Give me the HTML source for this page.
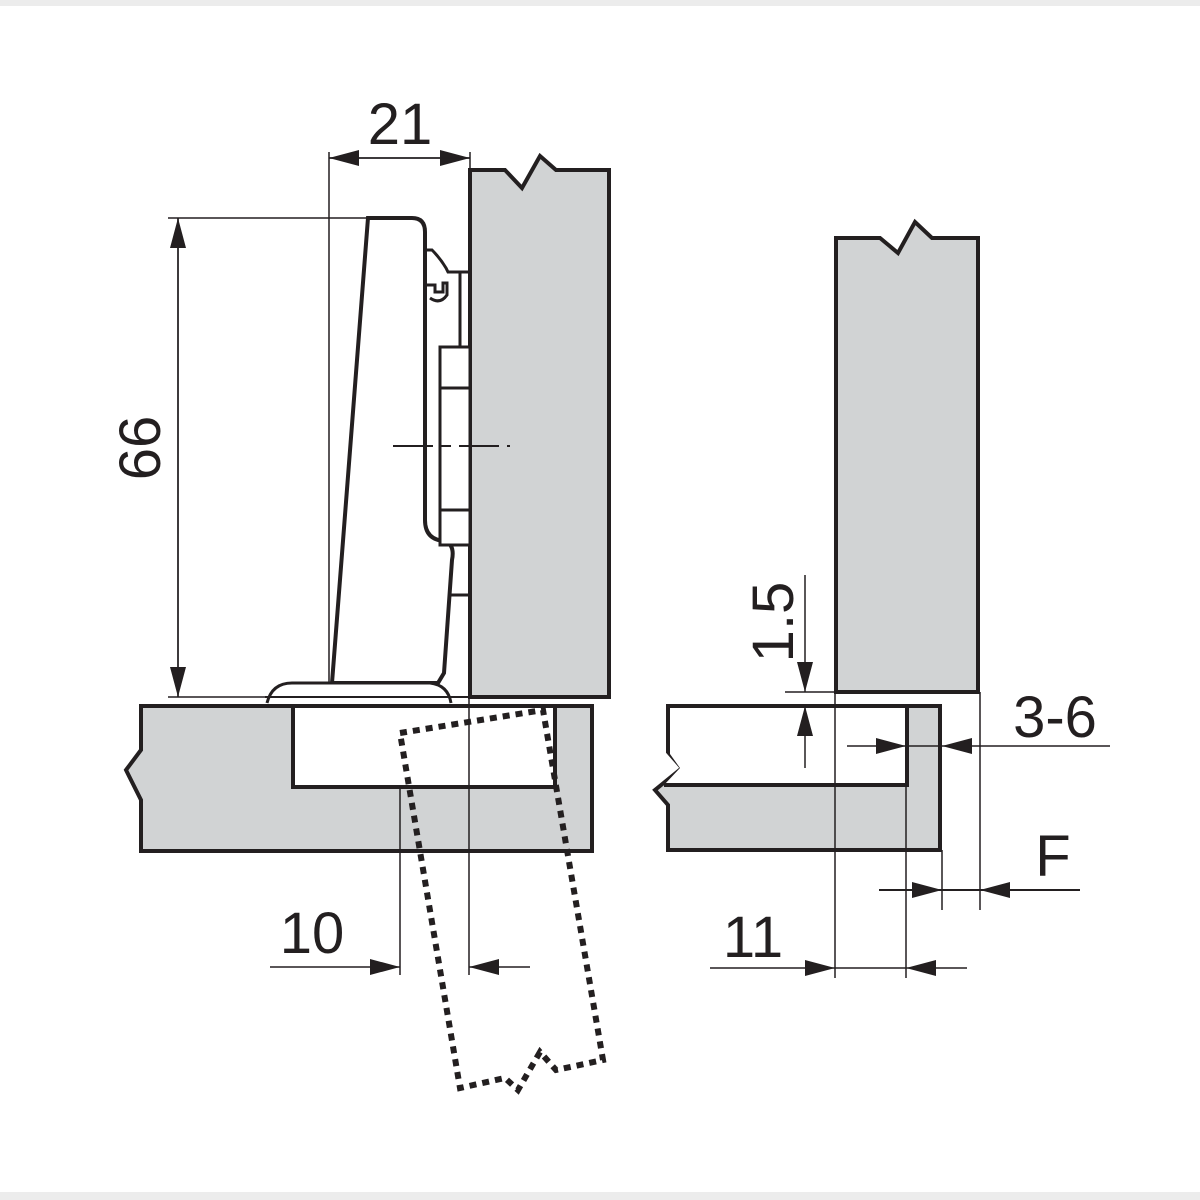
<!DOCTYPE html>
<html><head><meta charset="utf-8"><style>
html,body{margin:0;padding:0;background:#fff;}
svg{display:block;}
text{font-family:"Liberation Sans",sans-serif;fill:#231f20;}
</style></head><body>
<svg width="1200" height="1200" viewBox="0 0 1200 1200" xmlns="http://www.w3.org/2000/svg">
<rect x="0" y="0" width="1200" height="1200" fill="#ececec"/>
<rect x="0" y="6" width="1200" height="1186" fill="#fff"/>
<defs>
<marker id="a" markerWidth="30" markerHeight="16" refX="30" refY="8" orient="auto" markerUnits="userSpaceOnUse"><path d="M0,0 L30,8 L0,16 z" fill="#231f20"/></marker>
</defs>
<g stroke="#231f20" fill="none">
<!-- left cabinet side -->
<path d="M470,170 L505,170 L522,188 L540,156 L556,170 L609,170 L609,697 L470,697 Z" fill="#d1d3d4" stroke-width="4"/>
<!-- door left -->
<path d="M141,706 L592,706 L592,851 L141,851 L141,800 L126,770 L141,750 Z" fill="#d1d3d4" stroke-width="4"/>
<rect x="293" y="706" width="262" height="81" fill="#fff" stroke-width="4"/>
<rect x="143" y="700" width="446" height="4" fill="#fff" stroke="none"/>
<line x1="141" y1="706" x2="592" y2="706" stroke-width="4"/>
<!-- hinge arm -->
<path d="M368,218 L412,218 Q425,218 425,232 L425,520 Q425,540 445,541 Q455,545 452,560 L444,673 L438,683 L332,683 Z" fill="#fff" stroke-width="4"/>
<path d="M425,250 L432,250 Q440,258 446,268 L448,272 L470,272" stroke-width="3"/>
<path d="M425,285 L435,285 L435,292 L443,292 L443,283 L447,283 L447,295 Q440,305 430,298" stroke-width="3"/>
<line x1="460" y1="272" x2="460" y2="347" stroke-width="3"/>
<rect x="440" y="347" width="30" height="198" fill="#fff" stroke-width="3"/>
<line x1="440" y1="388" x2="470" y2="388" stroke-width="3"/>
<line x1="440" y1="510" x2="470" y2="510" stroke-width="3"/>
<line x1="450" y1="595" x2="470" y2="595" stroke-width="3"/>
<line x1="450" y1="545" x2="470" y2="545" stroke-width="3"/>
<path d="M267,703 Q272,683 292,683 L430,683 Q448,685 451,703" fill="#fff" stroke-width="3"/>
<line x1="265" y1="697" x2="470" y2="697" stroke-width="2"/>
<!-- center line -->
<line x1="393" y1="446" x2="510" y2="446" stroke-width="2" stroke-dasharray="40,8,10,8"/>
<!-- dotted door -->
<path d="M400,733 L543,710 L603,1060 L556,1070 L540,1052 L518,1090 L505,1078 L460,1088 Z" stroke-width="6" stroke-dasharray="7,6"/>
<!-- dim 21 -->
<line x1="329" y1="152" x2="329" y2="683" stroke-width="1.5"/>
<line x1="470" y1="152" x2="470" y2="170" stroke-width="1.5"/>
<line x1="329" y1="158" x2="470" y2="158" stroke-width="1.5" marker-end="url(#a)"/>
<line x1="470" y1="158" x2="329" y2="158" stroke-width="1.5" marker-end="url(#a)"/>
<!-- dim 66 -->
<line x1="168" y1="218" x2="368" y2="218" stroke-width="1.5"/>
<line x1="168" y1="697" x2="265" y2="697" stroke-width="1.5"/>
<line x1="178" y1="218" x2="178" y2="697" stroke-width="1.5" marker-end="url(#a)"/>
<line x1="178" y1="697" x2="178" y2="218" stroke-width="1.5" marker-end="url(#a)"/>
<!-- dim 10 -->
<line x1="400" y1="785" x2="400" y2="975" stroke-width="1.5"/>
<line x1="469" y1="697" x2="469" y2="975" stroke-width="1.5"/>
<line x1="270" y1="967" x2="400" y2="967" stroke-width="1.5" marker-end="url(#a)"/>
<line x1="530" y1="967" x2="469" y2="967" stroke-width="1.5" marker-end="url(#a)"/>
<!-- right cabinet side -->
<path d="M836,238 L880,238 L898,253 L915,222 L932,238 L978,238 L978,692 L836,692 Z" fill="#d1d3d4" stroke-width="4"/>
<!-- right door -->
<path d="M668,706 L940,706 L940,850 L668,850 L668,805 L655,790 L682,768 L668,752 Z" fill="#d1d3d4" stroke-width="4"/>
<path d="M670,708 L907,708 L907,785 L664,785 L680,768 L670,754 Z" fill="#fff" stroke="none"/>
<path d="M668,706 L907,706 L907,785 L664,785" stroke-width="4"/>
<!-- dim 1.5 -->
<line x1="785" y1="692" x2="836" y2="692" stroke-width="1.5"/>
<line x1="805" y1="575" x2="805" y2="692" stroke-width="1.5" marker-end="url(#a)"/>
<line x1="805" y1="768" x2="805" y2="706" stroke-width="1.5" marker-end="url(#a)"/>
<!-- ext lines right -->
<line x1="835" y1="692" x2="835" y2="978" stroke-width="1.5"/>
<line x1="906" y1="706" x2="906" y2="978" stroke-width="1.5"/>
<line x1="942" y1="850" x2="942" y2="910" stroke-width="1.5"/>
<line x1="980" y1="692" x2="980" y2="910" stroke-width="1.5"/>
<!-- dim 3-6 -->
<line x1="847" y1="746" x2="906" y2="746" stroke-width="1.5" marker-end="url(#a)"/>
<line x1="1110" y1="746" x2="942" y2="746" stroke-width="1.5" marker-end="url(#a)"/>
<line x1="906" y1="746" x2="942" y2="746" stroke-width="1.5"/>
<!-- dim F -->
<line x1="879" y1="890" x2="942" y2="890" stroke-width="2" marker-end="url(#a)"/>
<line x1="1080" y1="890" x2="980" y2="890" stroke-width="2" marker-end="url(#a)"/>
<line x1="942" y1="890" x2="980" y2="890" stroke-width="2"/>
<!-- dim 11 -->
<line x1="710" y1="968" x2="835" y2="968" stroke-width="1.5" marker-end="url(#a)"/>
<line x1="967" y1="968" x2="906" y2="968" stroke-width="1.5" marker-end="url(#a)"/>
<line x1="835" y1="968" x2="906" y2="968" stroke-width="1.5"/>
</g>
<text x="400" y="144" font-size="58" text-anchor="middle">21</text>
<text x="0" y="0" font-size="58" text-anchor="middle" transform="translate(160,448) rotate(-90)">66</text>
<text x="312" y="953" font-size="58" text-anchor="middle">10</text>
<text x="0" y="0" font-size="58" text-anchor="middle" transform="translate(793,622) rotate(-90)">1.5</text>
<text x="1055" y="737" font-size="58" text-anchor="middle">3-6</text>
<text x="1053" y="876" font-size="58" text-anchor="middle">F</text>
<text x="753" y="957" font-size="58" text-anchor="middle">11</text>
</svg>
</body></html>
